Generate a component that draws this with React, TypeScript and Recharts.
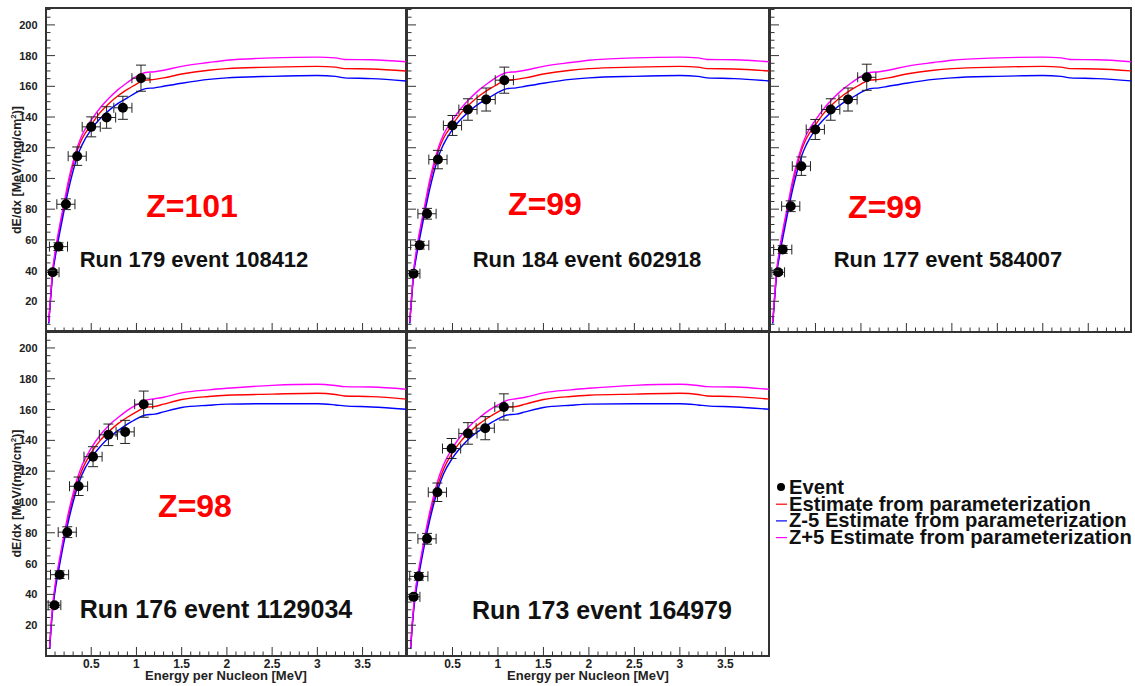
import React from "react";
import {
  ComposedChart,
  Line,
  Scatter,
  ErrorBar,
  XAxis,
  YAxis,
  ReferenceArea,
  Label,
} from "recharts";

// energy grid of the parameterization curves (MeV / nucleon)
const topCurveEnergy = [0.03, 0.05, 0.075, 0.1, 0.15, 0.2, 0.25, 0.3, 0.35, 0.4, 0.5, 0.6, 0.7, 0.8, 0.9, 1.0, 1.1, 1.2, 1.3, 1.5, 1.8, 2.0, 2.5, 3.0, 3.2, 3.3, 3.6, 3.98];
const bottomCurveEnergy = [0.04, 0.05, 0.075, 0.1, 0.15, 0.2, 0.25, 0.3, 0.35, 0.4, 0.5, 0.6, 0.7, 0.8, 0.9, 1.0, 1.1, 1.2, 1.3, 1.5, 1.8, 2.0, 2.5, 3.0, 3.2, 3.3, 3.6, 3.98];

// top row (Z=101 / 99 / 99)
const topEstimate = [6, 22, 40, 50, 67, 82, 97, 109, 119, 126, 135, 143, 149, 154, 158, 161.5, 164, 164.5, 165.5, 168, 170.5, 171.5, 172.5, 173, 172.5, 171.5, 171.3, 170];
const topMinus5 = [5.5, 21, 38.5, 48, 64, 79, 93, 105, 115, 122, 132, 139, 144.5, 149, 152.5, 156, 158.5, 159, 160, 162, 164.5, 165.5, 166.5, 167, 166.5, 165.5, 165, 163.5];
const topPlus5 = [6.5, 23, 41, 52, 69, 84, 99, 111, 121, 128.5, 138, 146, 152.5, 158, 162.5, 166.5, 169, 169.5, 170.5, 173, 175.5, 177, 178.5, 179, 178.5, 177.5, 177.3, 176];

// bottom row (Z=98 and run 173)
const bottomEstimate = [5, 14, 32, 44, 61, 77, 91, 103, 113, 121, 132, 140, 146, 151, 155, 158.5, 161.5, 162, 163.5, 166.5, 168.5, 169.3, 170, 170.6, 169.8, 168.8, 168.4, 166.8];
const bottomMinus5 = [4.5, 13, 30.5, 42, 59, 74.5, 88, 100, 110, 118, 128.5, 136, 142, 146.5, 150.5, 154, 156.5, 157, 158.5, 161.3, 162.8, 163.5, 163.8, 163.8, 163, 162.4, 161.7, 160.2];
const bottomPlus5 = [5.5, 15, 33.5, 46, 63, 79, 93.5, 105.5, 116, 124, 135, 143.5, 150, 155, 159.5, 163, 166, 167, 168, 170.8, 172.8, 173.8, 175.7, 176.4, 175.6, 174.9, 174.6, 173.2];

// measured events
const run179Energy = [0.074, 0.138, 0.22, 0.345, 0.5, 0.67, 0.85, 1.05];
const run179DeDx = [38.9, 55.6, 83.2, 114.5, 133.6, 139.7, 146, 165.3];
const run184Energy = [0.072, 0.14, 0.22, 0.34, 0.5, 0.67, 0.87, 1.07];
const run184DeDx = [38, 56.5, 77, 112.3, 134.5, 144.9, 151.4, 164];
const run177Energy = [0.09, 0.14, 0.228, 0.345, 0.498, 0.668, 0.858, 1.064];
const run177DeDx = [38.9, 53.7, 81.9, 108, 131.9, 144.9, 151.4, 165.9];
const run176Energy = [0.094, 0.15, 0.235, 0.36, 0.52, 0.69, 0.875, 1.08];
const run176DeDx = [33, 52.8, 80.4, 110.2, 129.4, 143.6, 145.5, 163.5];
const run173Energy = [0.072, 0.13, 0.22, 0.334, 0.49, 0.67, 0.86, 1.065];
const run173DeDx = [38.4, 51.7, 76.1, 106.3, 134.7, 144.5, 147.9, 161.7];

// errors (same bins for every event)
const energyErr = [0.07, 0.1, 0.1, 0.1, 0.1, 0.1, 0.1, 0.1];
const dedxErr = [1.5, 2.5, 3.5, 6, 6.5, 7, 7.5, 8.5];

// ticks: every minor position, majors picked out by step
const xTicks = Array.from({ length: 39 }, (_, i) => +((i + 1) * 0.1).toFixed(1));
const yTicks = Array.from({ length: 42 }, (_, i) => (i + 1) * 5);
const X_MAJOR_STEP = 0.5;
const Y_MAJOR_STEP = 20;

const legendLabels = [
  "Event",
  "Estimate from parameterization",
  "Z-5 Estimate from parameterization",
  "Z+5 Estimate from parameterization",
];

const FONT = '"Liberation Sans", Arial, Helvetica, sans-serif';
const Y_MAX = 211;
const RED = "#ff0000";
const BLUE = "#0000ff";
const MAGENTA = "#ff00ff";
const AXIS = "#333";

const isMajor = (v: number, step: number) => Math.abs(v / step - Math.round(v / step)) < 1e-6;

type PanelProps = {
  left: number;
  top: number;
  plotW: number;
  plotH: number;
  xMax: number;
  axisLeft: boolean;
  axisBottom: boolean;
  curveE: number[];
  est: number[];
  minus5: number[];
  plus5: number[];
  energy: number[];
  dedx: number[];
};

const rows = (xs: number[], ys: number[]) => xs.map((x, i) => ({ x, y: ys[i] }));

const Dot = (props: any) => {
  const { cx, cy } = props;
  if (cx == null || cy == null) return null;
  return <circle cx={cx} cy={cy} r={5} fill="#000" />;
};

// ticks point into the frame, labels sit outside
const makeXTick = (labelled: boolean) => (props: any) => {
  const { x, y, payload } = props;
  const major = isMajor(payload.value, X_MAJOR_STEP);
  return (
    <g>
      <line x1={x} x2={x} y1={y} y2={y - (major ? 9 : 4.5)} stroke={AXIS} strokeWidth={1} />
      {major && labelled && (
        <text x={x} y={y + 12} textAnchor="middle" fontFamily={FONT} fontWeight="bold" fontSize={12} fill="#222">
          {payload.value}
        </text>
      )}
    </g>
  );
};

const makeYTick = (labelled: boolean) => (props: any) => {
  const { x, y, payload } = props;
  const major = isMajor(payload.value, Y_MAJOR_STEP);
  return (
    <g>
      <line x1={x} x2={x + (major ? 9 : 4.5)} y1={y} y2={y} stroke={AXIS} strokeWidth={1} />
      {major && labelled && (
        <text x={x - 8.5} y={y + 4} textAnchor="end" fontFamily={FONT} fontWeight="bold" fontSize={11} fill="#222">
          {payload.value}
        </text>
      )}
    </g>
  );
};

const YTitle = (props: any) => {
  const { x, y, height } = props.viewBox;
  const cx = x - 24;
  const cy = y + height / 2;
  return (
    <text
      x={cx}
      y={cy}
      transform={`rotate(-90, ${cx}, ${cy})`}
      textAnchor="middle"
      fontFamily={FONT}
      fontWeight="bold"
      fontSize={12.5}
      fill="#222"
    >
      dE/dx [MeV/(mg/cm<tspan dy={-5} fontSize={8}>2</tspan>
      <tspan dy={5}>)]</tspan>
    </text>
  );
};

const XTitle = (props: any) => {
  const { x, y, width } = props.viewBox;
  return (
    <text
      x={x + width / 2}
      y={y + 24}
      textAnchor="middle"
      fontFamily={FONT}
      fontWeight="bold"
      fontSize={13}
      fill="#222"
    >
      Energy per Nucleon [MeV]
    </text>
  );
};

const Panel: React.FC<PanelProps> = (p) => {
  const padL = p.axisLeft ? 46 : 0;
  const padB = p.axisBottom ? 30 : 0;
  const points = p.energy.map((x, i) => ({
    x,
    y: p.dedx[i],
    ex: energyErr[i],
    ey: dedxErr[i],
  }));

  return (
    <div style={{ position: "absolute", left: p.left - padL - 1, top: p.top - 1 }}>
      <ComposedChart
        width={padL + 1 + p.plotW + 1}
        height={1 + p.plotH + 1 + padB}
        margin={{ top: 1, right: 1, bottom: padB, left: padL }}
      >
        <XAxis
          type="number"
          dataKey="x"
          domain={[0, p.xMax]}
          allowDataOverflow
          ticks={xTicks}
          interval={0}
          height={1}
          axisLine={false}
          tickLine={false}
          tickSize={0}
          tickMargin={0}
          tick={makeXTick(p.axisBottom)}
        >
          {p.axisBottom && <Label content={<XTitle />} />}
        </XAxis>
        <YAxis
          type="number"
          dataKey="y"
          domain={[0, Y_MAX]}
          allowDataOverflow
          ticks={yTicks}
          interval={0}
          width={1}
          axisLine={false}
          tickLine={false}
          tickSize={0}
          tickMargin={0}
          tick={makeYTick(p.axisLeft)}
        >
          {p.axisLeft && <Label content={<YTitle />} />}
        </YAxis>
        <ReferenceArea
          x1={0}
          x2={p.xMax}
          y1={0}
          y2={Y_MAX}
          fill="none"
          fillOpacity={0}
          stroke={AXIS}
          strokeWidth={2}
        />
        <Line
          data={rows(p.curveE, p.est)}
          dataKey="y"
          type="monotone"
          stroke={RED}
          strokeWidth={1.4}
          dot={false}
          isAnimationActive={false}
        />
        <Line
          data={rows(p.curveE, p.minus5)}
          dataKey="y"
          type="monotone"
          stroke={BLUE}
          strokeWidth={1.4}
          dot={false}
          isAnimationActive={false}
        />
        <Line
          data={rows(p.curveE, p.plus5)}
          dataKey="y"
          type="monotone"
          stroke={MAGENTA}
          strokeWidth={1.4}
          dot={false}
          isAnimationActive={false}
        />
        <Scatter data={points} shape={<Dot />} isAnimationActive={false}>
          <ErrorBar dataKey="ey" direction="y" width={5} stroke="#222" strokeWidth={1} />
          <ErrorBar dataKey="ex" direction="x" width={5} stroke="#222" strokeWidth={1} />
        </Scatter>
      </ComposedChart>
    </div>
  );
};

const notes = [
  { text: "Z=101", x: 192, y: 217, size: 32, color: RED },
  { text: "Run 179 event 108412", x: 194, y: 267, size: 22, color: "#111" },
  { text: "Z=99", x: 545, y: 215, size: 32, color: RED },
  { text: "Run 184 event 602918", x: 587, y: 267, size: 22, color: "#111" },
  { text: "Z=99", x: 885, y: 218, size: 32, color: RED },
  { text: "Run 177 event 584007", x: 948, y: 267, size: 22, color: "#111" },
  { text: "Z=98", x: 195, y: 517, size: 32, color: RED },
  { text: "Run 176 event 1129034", x: 216, y: 618, size: 25, color: "#111" },
  { text: "Run 173 event 164979", x: 602, y: 619, size: 25, color: "#111" },
];

const legendColors = ["#000", RED, BLUE, MAGENTA];

export default function App() {
  return (
    <div
      style={{
        position: "absolute",
        left: 0,
        top: 0,
        width: 1135,
        height: 686,
        background: "#fff",
        overflow: "hidden",
      }}
    >
      <Panel left={46} top={8} plotW={360} plotH={324} xMax={3.98} axisLeft axisBottom={false}
        curveE={topCurveEnergy} est={topEstimate} minus5={topMinus5} plus5={topPlus5}
        energy={run179Energy} dedx={run179DeDx} />
      <Panel left={407} top={8} plotW={362} plotH={324} xMax={3.98} axisLeft={false} axisBottom={false}
        curveE={topCurveEnergy} est={topEstimate} minus5={topMinus5} plus5={topPlus5}
        energy={run184Energy} dedx={run184DeDx} />
      <Panel left={770} top={8} plotW={361} plotH={324} xMax={3.97} axisLeft={false} axisBottom={false}
        curveE={topCurveEnergy} est={topEstimate} minus5={topMinus5} plus5={topPlus5}
        energy={run177Energy} dedx={run177DeDx} />
      <Panel left={46} top={331} plotW={360} plotH={325} xMax={3.98} axisLeft axisBottom
        curveE={bottomCurveEnergy} est={bottomEstimate} minus5={bottomMinus5} plus5={bottomPlus5}
        energy={run176Energy} dedx={run176DeDx} />
      <Panel left={407} top={331} plotW={362} plotH={325} xMax={3.98} axisLeft={false} axisBottom
        curveE={bottomCurveEnergy} est={bottomEstimate} minus5={bottomMinus5} plus5={bottomPlus5}
        energy={run173Energy} dedx={run173DeDx} />

      <svg
        width={1135}
        height={686}
        style={{ position: "absolute", left: 0, top: 0, pointerEvents: "none" }}
      >
        {notes.map((n, i) => (
          <text
            key={i}
            x={n.x}
            y={n.y}
            textAnchor="middle"
            fontFamily={FONT}
            fontWeight="bold"
            fontSize={n.size}
            fill={n.color}
          >
            {n.text}
          </text>
        ))}
        {legendLabels.map((label, i) => {
          const base = 494 + i * 16.7;
          return (
            <g key={label}>
              {i === 0 ? (
                <circle cx={781} cy={base - 7} r={4} fill="#000" />
              ) : (
                <line x1={776} x2={787} y1={base - 6.5} y2={base - 6.5} stroke={legendColors[i]} strokeWidth={1.2} />
              )}
              <text x={789} y={base} fontFamily={FONT} fontWeight="bold" fontSize={20.2} fill="#111">
                {label}
              </text>
            </g>
          );
        })}
      </svg>
    </div>
  );
}
